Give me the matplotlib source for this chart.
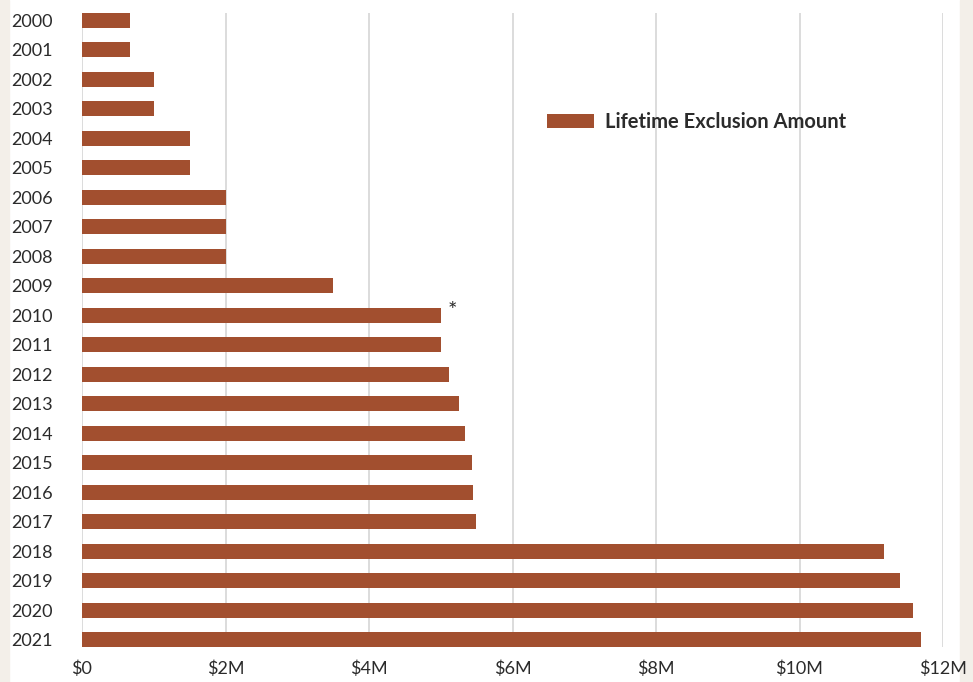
import matplotlib.pyplot as plt
from matplotlib.patches import Rectangle

years = ['2000', '2001', '2002', '2003', '2004', '2005', '2006', '2007', '2008', '2009', '2010',
         '2011', '2012', '2013', '2014', '2015', '2016', '2017', '2018', '2019', '2020', '2021']
# exclusion amounts in $M
amounts = [0.675, 0.675, 1.0, 1.0, 1.5, 1.5, 2.0, 2.0, 2.0, 3.5, 5.0,
           5.0, 5.12, 5.25, 5.34, 5.43, 5.45, 5.49, 11.18, 11.40, 11.58, 11.70]
xticks = [0, 2, 4, 6, 8, 10, 12]
xlabels = ['$0', '$2M', '$4M', '$6M', '$8M', '$10M', '$12M']

plt.rcParams['font.family'] = ['Lato', 'DejaVu Sans']
bar_col = '#a24f2f'
txt_col = '#2b2b2b'

fig = plt.figure(figsize=(9.73, 6.82), dpi=100)
fig.patch.set_facecolor('white')
# beige side strips
fig.patches.append(Rectangle((0, 0), 9/973, 1, transform=fig.transFigure, color='#f3efe9', zorder=-5))
fig.patches.append(Rectangle((960/973, 0), 13/973, 1, transform=fig.transFigure, color='#f3efe9', zorder=-5))

ax = fig.add_axes([82/973, 35/682, 861/973, 634/682])
pos = list(range(len(years)))
ax.barh(pos, amounts, height=0.5, color=bar_col, zorder=3, label='Lifetime Exclusion Amount')
ax.set_ylim(len(years) - 0.75, -0.25)
ax.set_xlim(0, 12)
ax.set_yticks(pos)
ax.set_yticklabels(years)
ax.set_xticks(xticks)
ax.set_xticklabels(xlabels)
ax.tick_params(axis='y', length=0, pad=21, labelsize=13, labelcolor=txt_col)
ax.tick_params(axis='x', length=0, pad=10, labelsize=13, labelcolor=txt_col)
ax.grid(axis='x', color='#d6d6d6', linewidth=1.2, zorder=0)
for s in ax.spines.values():
    s.set_visible(False)

ax.annotate('*', xy=(amounts[10], pos[10]), xytext=(5, 3), textcoords='offset points',
            fontsize=16, color=txt_col, va='center', ha='left')

leg = ax.legend(loc='center left', bbox_to_anchor=(0.519, 0.828), bbox_transform=ax.transAxes,
                frameon=False, prop={'weight': 'bold', 'size': 14.5}, handlelength=2.35,
                handleheight=0.75, handletextpad=0.55)
for t in leg.get_texts():
    t.set_color(txt_col)

fig.savefig('out.png', dpi=100)
